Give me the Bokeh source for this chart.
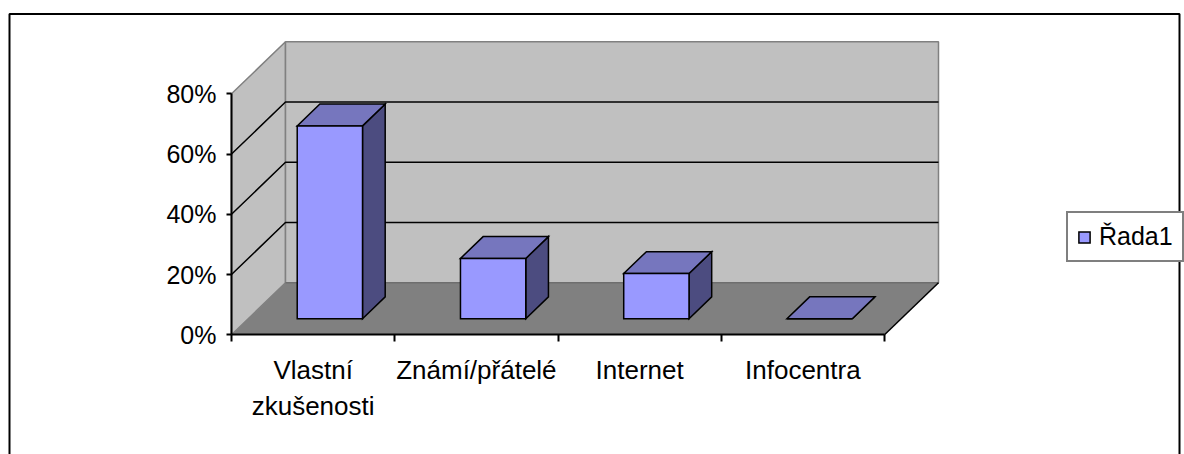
from bokeh.plotting import figure
from bokeh.models import Range1d, LinearAxis, FixedTicker, Legend, LegendItem
from bokeh.embed import file_html
from bokeh.resources import INLINE

# ---------------- data ----------------
categories = ["Vlastní\nzkušenosti", "Známí/přátelé", "Internet", "Infocentra"]
values = [0.64, 0.20, 0.15, 0.0]
y_ticks = [0.0, 0.2, 0.4, 0.6, 0.8]
y_tick_labels = ["0%", "20%", "40%", "60%", "80%"]
gridline_values = [0.2, 0.4, 0.6]
series_name = "Řada1"

# ---------------- layout / style ----------------
W, H = 1184, 454
OX, OY = 231.0, 334.3          # px of front-left origin (category 0, value 0)
CAT_PX = 163.25                # px per category
VAL_PX = 301.25                # px per 100 %
DEP_X, DEP_Y = 54.0, 52.0      # px of full depth offset
DX = DEP_X / CAT_PX
DY = DEP_Y / VAL_PX
VMAX = 0.8
N = len(categories)
BAR_W = 0.4
D0, D1 = 0.31, 0.73
FONT = "Liberation Sans"

WALL = "#C0C0C0"
WALL_EDGE = "#808080"
FLOOR = "#808080"
FRONT = "#9999FF"
TOP = "#7676BE"
SIDE = "#4C4C80"


def proj(x, v, d):
    return x + d * DX, v + d * DY


def poly(pts):
    xs, ys = [], []
    for (x, v, d) in pts:
        a, b = proj(x, v, d)
        xs.append(a)
        ys.append(b)
    return xs, ys


def px2x(fx):
    return (fx - OX) / CAT_PX


def px2y(fy):
    return (OY - fy) / VAL_PX


p = figure(width=W, height=H,
           x_range=Range1d(px2x(0), px2x(W)), y_range=Range1d(px2y(H), px2y(0)),
           output_backend="svg", toolbar_location=None, min_border=0,
           x_axis_type=None, y_axis_type=None, outline_line_color=None,
           background_fill_color="white", border_fill_color="white")

# outer chart border
bx = [px2x(9), px2x(9), px2x(1179), px2x(1179)]
by = [px2y(480), px2y(13.5), px2y(13.5), px2y(480)]
p.line(bx, by, line_color="black", line_width=2)

# side wall
xs, ys = poly([(0, 0, 0), (0, 0, 1), (0, VMAX, 1), (0, VMAX, 0)])
p.patch(xs, ys, fill_color=WALL, line_color=WALL_EDGE, line_width=1.5)
# back wall
xs, ys = poly([(0, 0, 1), (N, 0, 1), (N, VMAX, 1), (0, VMAX, 1)])
p.patch(xs, ys, fill_color=WALL, line_color=WALL_EDGE, line_width=1.5)
# floor
xs, ys = poly([(0, 0, 0), (N, 0, 0), (N, 0, 1), (0, 0, 1)])
p.patch(xs, ys, fill_color=FLOOR, line_color=None)
xs, ys = poly([(0, 0, 1), (N, 0, 1)])
p.line(xs, ys, line_color="#6E6E6E", line_width=1.5)
xs, ys = poly([(N, 0, 0), (N, 0, 1)])
p.line(xs, ys, line_color="black", line_width=1.5)

# gridlines (side wall + back wall)
gx, gy = [], []
for g in gridline_values:
    a, b = poly([(0, g, 0), (0, g, 1), (N, g, 1)])
    gx.append(a)
    gy.append(b)
p.multi_line(gx, gy, line_color="black", line_width=1.5)

# bars
fx, fy, tx, ty, sx, sy = [], [], [], [], [], []
for i, v in enumerate(values):
    x0 = i + (1 - BAR_W) / 2
    x1 = x0 + BAR_W
    a, b = poly([(x0, 0, D0), (x1, 0, D0), (x1, v, D0), (x0, v, D0)])
    fx.append(a); fy.append(b)
    a, b = poly([(x0, v, D0), (x1, v, D0), (x1, v, D1), (x0, v, D1)])
    tx.append(a); ty.append(b)
    a, b = poly([(x1, 0, D0), (x1, 0, D1), (x1, v, D1), (x1, v, D0)])
    sx.append(a); sy.append(b)

p.patches(sx, sy, fill_color=SIDE, line_color="black", line_width=1.5, line_join="miter")
p.patches(tx, ty, fill_color=TOP, line_color="black", line_width=1.5, line_join="miter")
front = p.patches(fx, fy, fill_color=FRONT, line_color="black", line_width=1.5, line_join="miter")

# y axis at the front-left edge
yaxis = LinearAxis(fixed_location=0, bounds=(0, VMAX),
                   ticker=FixedTicker(ticks=y_ticks),
                   major_label_overrides={t: l for t, l in zip(y_ticks, y_tick_labels)},
                   axis_line_color="black", axis_line_width=2,
                   major_tick_line_color="black", major_tick_line_width=2,
                   major_tick_out=5, major_tick_in=0, minor_tick_line_color=None,
                   major_label_standoff=10,
                   major_label_text_font=FONT, major_label_text_font_size="25px",
                   major_label_text_color="black")
p.add_layout(yaxis, "left")

# x axis: tick marks at category boundaries
bounds_ticks = list(range(N + 1))
xaxis = LinearAxis(fixed_location=0, bounds=(0, N),
                   ticker=FixedTicker(ticks=bounds_ticks),
                   major_label_overrides={t: "" for t in bounds_ticks},
                   axis_line_color="black", axis_line_width=2,
                   major_tick_line_color="black", major_tick_line_width=2,
                   major_tick_out=7, major_tick_in=0, minor_tick_line_color=None)
p.add_layout(xaxis, "below")

# x axis: category labels at centres
centres = [i + 0.5 for i in range(N)]
xlab = LinearAxis(fixed_location=0, ticker=FixedTicker(ticks=centres),
                  major_label_overrides={c: l for c, l in zip(centres, categories)},
                  axis_line_color=None, major_tick_line_color=None,
                  minor_tick_line_color=None, major_label_standoff=14,
                  major_label_text_font=FONT, major_label_text_font_size="26px",
                  major_label_text_color="black")
p.add_layout(xlab, "below")

legend = Legend(items=[LegendItem(label=series_name, renderers=[front])],
                location=(1066, 192), orientation="vertical",
                border_line_color="black", border_line_width=2,
                background_fill_color="white", background_fill_alpha=1.0,
                glyph_width=14, glyph_height=14, label_standoff=8,
                padding=9, margin=0, spacing=0,
                label_text_font=FONT, label_text_font_size="25px",
                label_text_color="black")
p.add_layout(legend)

open("out.html", "w").write(file_html(p, INLINE))
